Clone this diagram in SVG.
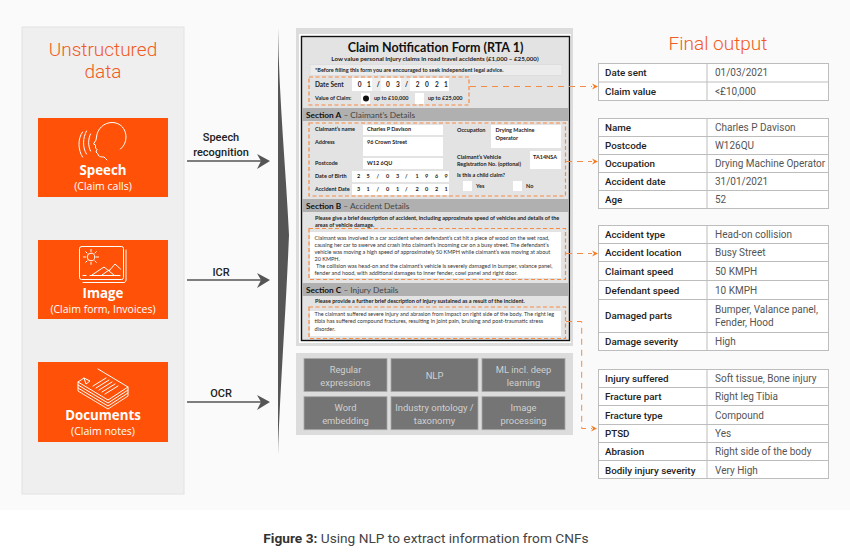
<svg xmlns="http://www.w3.org/2000/svg" width="850" height="552" viewBox="0 0 850 552">
<style>
text{font-family:Roboto,"Liberation Sans",sans-serif}
.h{font-weight:300;font-size:19px;fill:#f15a22;text-anchor:middle}
.nt{font-weight:700;font-size:13.300px;fill:#fff;text-anchor:middle;font-family:"Open Sans","Liberation Sans",sans-serif}
.ns{font-size:10.500px;fill:#fff;text-anchor:middle;font-family:"Open Sans","Liberation Sans",sans-serif}
.or{fill:#ff5208}
.ic{fill:none;stroke:#fff;stroke-width:1;stroke-linecap:round;stroke-linejoin:round}
.lab{font-size:11px;font-weight:500;fill:#222;text-anchor:middle}
.ar{stroke:#555;stroke-width:1.6;fill:none}
.hd{fill:#555}
.f{font-family:Lato,"Liberation Sans",sans-serif;font-size:5.500px;fill:#333}
.fb{font-family:Lato,"Liberation Sans",sans-serif;font-size:5.500px;fill:#222;font-weight:700}
.sec{font-family:Lato,"Liberation Sans",sans-serif;font-size:8.300px;fill:#444}
.sec tspan{font-weight:700;fill:#111}
.w{fill:#fff}
.bar{fill:#b0b0b0}
.dash{fill:none;stroke:#f58a42;stroke-width:1.2;stroke-dasharray:4 2.5}
.conn{fill:none;stroke:#f58a42;stroke-width:1;stroke-dasharray:6 5}
.tip{fill:#f47b20}
.tb{fill:#fff;stroke:#bdbdbd;stroke-width:1}
.tl{stroke:#bdbdbd;stroke-width:1}
.k{font-size:9.800px;font-weight:500;fill:#222}
.v{font-size:10px;fill:#555}
.gb{fill:#757575;stroke:#a8a8a8;stroke-width:.8}
.gt{font-size:9.400px;fill:#d0d0d0;text-anchor:middle}
</style>
<rect width="850" height="552" fill="#fff"/>
<rect width="850" height="510" fill="#fafafa"/>
<rect x="22" y="27" width="162" height="467" fill="#efefef" stroke="#e2e2e2"/>
<text class="h" x="103" y="56">Unstructured</text>
<text class="h" x="103" y="78">data</text>
<g id="speech">
<rect class="or" x="38" y="118" width="130" height="79"/>
<g class="ic">
<path d="M96.500 137C97 129 104 122.500 112 122.500C120.500 122.500 126 129 126 137C126 142 124 146 120.500 149"/>
<path d="M96.500 137L96 140L93.500 144L95.500 145L95.500 148L97 149.500L96 152L98 154C98 157 102 157 104 157L107 160"/>
<path d="M90.500 134C88 139 88 146 90.500 151"/>
<path d="M86.500 131C82.500 138 82.500 148 86.500 154"/>
<path d="M82.500 132C77.500 139 78 150 82.500 157"/>
</g>
<text class="nt" x="103" y="175">Speech</text>
<text class="ns" x="103" y="190">(Claim calls)</text>
</g>
<g id="image">
<rect class="or" x="38" y="240" width="130" height="79"/>
<g class="ic">
<rect x="79.500" y="246.500" width="44" height="33" rx="2"/>
<path d="M126 250V280C126 281.500 125 282.500 124 282.500H83"/>
<circle cx="91" cy="257" r="3.800"/>
<path d="M91 249.500V251.500M91 262.500V264.500M83.500 257H85.500M96.500 257H98.500M85.700 251.700L87.100 253.100M94.900 260.900L96.300 262.300M85.700 262.300L87.100 260.900M94.900 253.100L96.300 251.700"/>
<path d="M92 275L104 267L109 271L115 264L120.500 269M102 275L109 270M109 271L114 275"/>
<path d="M83 275.500H86M90 275.500H120"/>
</g>
<text class="nt" x="103" y="298">Image</text>
<text class="ns" x="103" y="313">(Claim form, Invoices)</text>
</g>
<g id="documents">
<rect class="or" x="38" y="362" width="130" height="80"/>
<g class="ic">
<path d="M98 369L128 387L108 400L78 382L84 378L86 384L90 381L84 378"/>
<path d="M78 382V385L108 403L128 390V387"/>
<path d="M78 385V388L108 406L128 393V390"/>
<path d="M78 388V391L108 409L128 396V393" opacity=".9"/>
<path d="M93 386L106 378M96 388L109 380M99 390L112 382M102 392L115 384M105 394L118 386"/>
</g>
<text class="nt" x="103" y="420">Documents</text>
<text class="ns" x="103" y="435">(Claim notes)</text>
</g>
<path d="M278 28C279 100 286 170 289 235C286 310 280 390 278 455Z" fill="#555"/>
<g id="form">
<rect x="296" y="28" width="277" height="318" fill="#dcdcdc"/>
<rect x="299" y="34" width="272" height="309" fill="#fff"/>
<rect x="301.500" y="36.500" width="268" height="304" fill="#e3e3e3" stroke="#111" stroke-width="1.400"/>
<text x="435.500" y="52" text-anchor="middle" font-size="12.500" font-weight="700" fill="#111" style="font-family:Lato,'Liberation Sans',sans-serif">Claim Notification Form (RTA 1)</text>
<text class="fb" x="435" y="61" text-anchor="middle" style="font-size:6.200px">Low value personal Injury claims in road travel accidents (£1,000 – £25,000)</text>
<rect x="310" y="64.500" width="252" height="11" fill="#ececec" stroke="#d5d5d5" stroke-width=".5"/>
<text class="fb" x="315" y="72">*Before filling this form you are encouraged to seek independent legal advice.</text>
<rect class="w" x="352" y="78" width="97" height="13"/>
<rect x="372" y="78" width="9" height="13" fill="#eee"/><rect x="401" y="78" width="9" height="13" fill="#eee"/>
<text class="fb" style="font-size:6.500px" x="315" y="86.500">Date Sent</text>
<text class="fb" style="font-size:6.500px" x="357.700 367 376.700 386 396 405 415.700 425 435 444" y="87">01/03/2021</text>
<text class="fb" x="315" y="100">Value of Claim:</text>
<rect class="w" x="361" y="93" width="9" height="11"/><circle cx="366" cy="98.500" r="3" fill="#111"/>
<text class="fb" x="374" y="100">up to £10,000</text>
<rect class="w" x="415" y="93" width="9" height="11"/>
<text class="fb" x="428" y="100">up to £25,000</text>
<rect class="bar" x="302" y="108" width="267" height="13"/>
<text class="sec" x="306" y="117.500"><tspan>Section A</tspan> – Claimant’s Details</text>
<rect class="w" x="363" y="125" width="80" height="10"/><rect class="w" x="363" y="137" width="80" height="19"/><rect class="w" x="363" y="158" width="80" height="11"/>
<rect class="w" x="352" y="171" width="97" height="11"/><rect class="w" x="352" y="184" width="97" height="11"/>
<rect class="w" x="491" y="125" width="70" height="23"/><rect class="w" x="530" y="151" width="31" height="18"/>
<rect class="w" x="463" y="181" width="9" height="10"/><rect class="w" x="513" y="181" width="9" height="10"/>
<text class="fb" x="315" y="131">Claimant’s name</text><text class="fb" x="367" y="131">Charles P Davison</text>
<text class="fb" x="315" y="144">Address</text><text class="fb" x="367" y="144">96 Crown Street</text>
<text class="fb" x="315" y="165">Postcode</text><text class="fb" x="367" y="165">W12 6QU</text>
<text class="fb" x="315" y="178">Date of Birth</text>
<text class="fb" x="357 366.500 376.500 386 396 405 415.500 425 435 444.500" y="178">25/03/1969</text>
<text class="fb" x="315" y="191">Accident Date</text>
<text class="fb" x="357 366.500 376.500 386 396 405 415.500 425 435 444.500" y="191">31/01/2021</text>
<text class="fb" x="457" y="132">Occupation</text>
<text class="fb" x="495.500" y="132">Drying Machine</text><text class="fb" x="495.500" y="139.500">Operator</text>
<text class="fb" x="457" y="158.500">Claimant’s Vehicle</text><text class="fb" x="457" y="165.500">Registration No. (optional)</text>
<text class="fb" x="533" y="158.500">TA14NSA</text>
<text class="fb" x="457" y="177">Is this a child claim?</text>
<text class="fb" x="476" y="188">Yes</text><text class="fb" x="526" y="188">No</text>
<rect class="bar" x="302" y="199" width="267" height="13"/>
<text class="sec" x="306" y="208.500"><tspan>Section B</tspan> – Accident Details</text>
<text class="fb" x="315" y="220">Please give a brief description of accident, including approximate speed of vehicles and details  of  the</text>
<text class="fb" x="315" y="227">areas of vehicle damage.</text>
<rect class="w" x="310" y="232" width="251" height="46"/>
<text class="f" x="314.500" y="239.500">Claimant was involved in  a car accident when defendant’s cat hit a piece of wood on the wet road,</text>
<text class="f" x="314.500" y="246.500">causing her car to swerve and crash into claimant’s incoming car on a busy street. The defendant’s</text>
<text class="f" x="314.500" y="253.500">vehicle was moving a high speed of approximately 50 KMPH while claimant’s was moving at about</text>
<text class="f" x="314.500" y="260.500">20 KMPH.</text>
<text class="f" x="316" y="268">The collision was head-on and the claimant’s vehicle is severely damaged in bumper, valance panel,</text>
<text class="f" x="314.500" y="275">fender and hood, with additional damages to inner fender, cowl panel and right door.</text>
<rect class="bar" x="302" y="283" width="267" height="13"/>
<text class="sec" x="306" y="292.500"><tspan>Section C</tspan> – Injury Details</text>
<text class="fb" x="315" y="303">Please provide a further brief  description of injury sustained as a result of the incident.</text>
<rect class="w" x="310" y="311" width="251" height="25"/>
<text class="f" x="314.500" y="315.500">The claimant suffered severe injury and abrasion from impact on right side of the body. The right leg</text>
<text class="f" x="314.500" y="323">tibia has suffered compound fractures, resulting in joint pain, bruising and post-traumatic stress</text>
<text class="f" x="314.500" y="330.500">disorder.</text>
<rect class="dash" x="309" y="77" width="160" height="28"/>
<rect class="dash" x="309" y="123" width="256.500" height="73"/>
<rect class="dash" x="309" y="228.500" width="256.500" height="51"/>
<rect class="dash" x="309" y="307" width="256.500" height="31.500"/>
</g>
<g id="techniques">
<rect x="296" y="353" width="277" height="82" fill="#dcdcdc"/>
<rect class="gb" x="304" y="358.500" width="83" height="33"/><rect class="gb" x="391" y="358.500" width="87" height="33"/><rect class="gb" x="482" y="358.500" width="83" height="33"/>
<rect class="gb" x="304" y="396.700" width="83" height="33"/><rect class="gb" x="391" y="396.700" width="87" height="33"/><rect class="gb" x="482" y="396.700" width="83" height="33"/>
<text class="gt" x="345.500" y="373">Regular</text><text class="gt" x="345.500" y="385.500">expressions</text>
<text class="gt" x="434.500" y="378.500">NLP</text>
<text class="gt" x="523.500" y="373">ML incl. deep</text><text class="gt" x="523.500" y="385.500">learning</text>
<text class="gt" x="345.500" y="411">Word</text><text class="gt" x="345.500" y="423.500">embedding</text>
<text class="gt" x="434.500" y="411">Industry ontology /</text><text class="gt" x="434.500" y="423.500">taxonomy</text>
<text class="gt" x="523.500" y="411">Image</text><text class="gt" x="523.500" y="423.500">processing</text>
</g>
<g id="connectors">
<text class="lab" x="221" y="141">Speech</text>
<text class="lab" x="221" y="156">recognition</text>
<path class="ar" d="M187 161H266"/><path class="hd" d="M257 154L270 161L257 169L261 161Z"/>
<text class="lab" x="221" y="276">ICR</text>
<path class="ar" d="M187 280H266"/><path class="hd" d="M257 273L270 280L257 288L261 280Z"/>
<text class="lab" x="221" y="397">OCR</text>
<path class="ar" d="M187 402H266"/><path class="hd" d="M257 395L270 402L257 410L261 402Z"/>
<path class="conn" d="M470 86.500H592"/><path class="tip" d="M592 83.500L598 86.500L592 89.500L594 86.500Z"/>
<path class="conn" d="M566 161.500H592"/><path class="tip" d="M592 158.500L598 161.500L592 164.500L594 161.500Z"/>
<path class="conn" d="M566 253.500H592"/><path class="tip" d="M592 250.500L598 253.500L592 256.500L594 253.500Z"/>
<path class="conn" d="M566 321.500H581.700V428.500H592"/><path class="tip" d="M591 425.500L597 428.500L591 431.500L593 428.500Z"/>
</g>
<text class="h" x="718" y="50">Final output</text>
<g id="table1">
<rect class="tb" x="598.500" y="63.500" width="230" height="37"/>
<path class="tl" d="M598 82H829M707 63V100"/>
<text class="k" x="605" y="76">Date sent</text><text class="v" x="715" y="76">01/03/2021</text>
<text class="k" x="605" y="95">Claim value</text><text class="v" x="715" y="95">&lt;£10,000</text>
</g>
<g id="table2">
<rect class="tb" x="598.500" y="118.500" width="230" height="90"/>
<path class="tl" d="M598 136.500H829M598 154.500H829M598 172.500H829M598 190.500H829M707 118V208"/>
<text class="k" x="605" y="131">Name</text><text class="v" x="715" y="131">Charles P Davison</text>
<text class="k" x="605" y="149">Postcode</text><text class="v" x="715" y="149">W126QU</text>
<text class="k" x="605" y="167">Occupation</text><text class="v" x="715" y="167">Drying Machine Operator</text>
<text class="k" x="605" y="185">Accident date</text><text class="v" x="715" y="185">31/01/2021</text>
<text class="k" x="605" y="203">Age</text><text class="v" x="715" y="203">52</text>
</g>
<g id="table3">
<rect class="tb" x="598.500" y="225.500" width="230" height="125"/>
<path class="tl" d="M598 243.500H829M598 261.500H829M598 280.500H829M598 299.500H829M598 332.500H829M707 225V350"/>
<text class="k" x="605" y="238">Accident type</text><text class="v" x="715" y="238">Head-on collision</text>
<text class="k" x="605" y="256">Accident location</text><text class="v" x="715" y="256">Busy Street</text>
<text class="k" x="605" y="275">Claimant speed</text><text class="v" x="715" y="275">50 KMPH</text>
<text class="k" x="605" y="294">Defendant speed</text><text class="v" x="715" y="294">10 KMPH</text>
<text class="k" x="605" y="319">Damaged parts</text><text class="v" x="715" y="313">Bumper, Valance panel,</text><text class="v" x="715" y="326">Fender, Hood</text>
<text class="k" x="605" y="345">Damage severity</text><text class="v" x="715" y="345">High</text>
</g>
<g id="table4">
<rect class="tb" x="598.500" y="369.500" width="230" height="109"/>
<path class="tl" d="M598 387.500H829M598 405.500H829M598 424.500H829M598 442.500H829M598 460.500H829M707 369V479"/>
<text class="k" x="605" y="382">Injury suffered</text><text class="v" x="715" y="382">Soft tissue, Bone injury</text>
<text class="k" x="605" y="400">Fracture part</text><text class="v" x="715" y="400">Right leg Tibia</text>
<text class="k" x="605" y="418.500">Fracture type</text><text class="v" x="715" y="418.500">Compound</text>
<text class="k" x="605" y="437">PTSD</text><text class="v" x="715" y="437">Yes</text>
<text class="k" x="605" y="455">Abrasion</text><text class="v" x="715" y="455">Right side of the body</text>
<text class="k" x="605" y="473.500">Bodily injury severity</text><text class="v" x="715" y="473.500">Very High</text>
</g>
<text x="426" y="543" text-anchor="middle" font-size="13.700" fill="#444"><tspan font-weight="700" fill="#333">Figure 3:</tspan> Using NLP to extract information from CNFs</text>
</svg>
